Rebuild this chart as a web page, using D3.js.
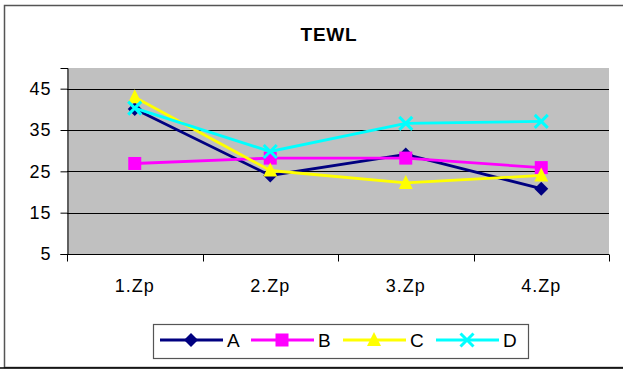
<!DOCTYPE html>
<html>
<head>
<meta charset="utf-8">
<script src="https://cdn.jsdelivr.net/npm/d3@7"></script>
<style>
  html, body { margin: 0; padding: 0; background: #fff; }
  svg { display: block; font-family: Arial, "Liberation Sans", sans-serif; }
</style>
</head>
<body>
<svg id="chart" width="623" height="369"></svg>
<script>
// TEWL measurements per visit (1.Zp .. 4.Zp) for four groups
const categories = ["1.Zp", "2.Zp", "3.Zp", "4.Zp"];
const seriesNames = ["A", "B", "C", "D"];
const valuesA = [40.1, 24.0, 29.1, 20.8];
const valuesB = [26.9, 28.2, 28.2, 25.9];
const valuesC = [42.9, 25.2, 22.2, 24.0];
const valuesD = [40.3, 29.8, 36.6, 37.1];
const yTicks = [5, 15, 25, 35, 45];
const yDomain = [5, 50];
const chartTitle = "TEWL";

const series = [
  { name: seriesNames[0], values: valuesA, color: "#000080", marker: "diamond" },
  { name: seriesNames[1], values: valuesB, color: "#FF00FF", marker: "square" },
  { name: seriesNames[2], values: valuesC, color: "#FFFF00", marker: "triangle" },
  { name: seriesNames[3], values: valuesD, color: "#00FFFF", marker: "x" }
];

const FONT = "Arial, 'Liberation Sans', sans-serif";
const svg = d3.select("#chart");
const plot = { left: 67, right: 609, top: 68, bottom: 254 };

// outer chart frame
svg.append("rect")
  .attr("x", 4.5).attr("y", 5.5)
  .attr("width", 640).attr("height", 362)
  .attr("fill", "#fff").attr("stroke", "#555").attr("stroke-width", 1.5);
svg.append("line")
  .attr("x1", 0).attr("x2", 623).attr("y1", 368).attr("y2", 368)
  .attr("stroke", "#000").attr("stroke-width", 1.5);

// title
svg.append("text")
  .attr("x", 329).attr("y", 41)
  .attr("text-anchor", "middle")
  .attr("font-weight", "bold").attr("font-size", 19).attr("letter-spacing", 0.8)
  .text(chartTitle);

const x = d3.scaleBand().domain(categories).range([plot.left, plot.right]).padding(0);
const y = d3.scaleLinear().domain(yDomain).range([plot.bottom, plot.top]);

// plot background
svg.append("rect")
  .attr("x", plot.left).attr("y", plot.top)
  .attr("width", plot.right - plot.left).attr("height", plot.bottom - plot.top)
  .attr("fill", "#C0C0C0");

// horizontal gridlines
svg.append("g").selectAll("line")
  .data(yTicks.filter(t => t !== yDomain[0]))
  .join("line")
  .attr("x1", plot.left).attr("x2", plot.right)
  .attr("y1", d => Math.round(y(d)) + 0.5).attr("y2", d => Math.round(y(d)) + 0.5)
  .attr("stroke", "#000").attr("stroke-width", 1);

// y axis
const yAxis = d3.axisLeft(y).tickValues(yTicks).tickSize(7).tickPadding(9);
const gy = svg.append("g").attr("transform", `translate(${plot.left + 0.5},0)`).call(yAxis);
gy.attr("font-size", null).attr("font-family", null);
gy.select(".domain").attr("stroke", "#000");
gy.selectAll(".tick line").attr("stroke", "#000");
gy.selectAll(".tick text").attr("font-size", 18).attr("fill", "#000").attr("font-family", FONT)
  .attr("letter-spacing", 1);

// x axis: ticks on category boundaries, labels centred
const gx = svg.append("g").attr("transform", `translate(0,${plot.bottom + 0.5})`);
gx.append("line").attr("x1", plot.left).attr("x2", plot.right).attr("stroke", "#000");
const bounds = categories.map(c => x(c)).concat([x(categories[categories.length - 1]) + x.bandwidth()]);
gx.selectAll("line.tk").data(bounds).join("line").attr("class", "tk")
  .attr("x1", d => Math.round(d) + 0.5).attr("x2", d => Math.round(d) + 0.5)
  .attr("y1", 0).attr("y2", 7).attr("stroke", "#000");
gx.selectAll("text").data(categories).join("text")
  .attr("x", d => x(d) + x.bandwidth() / 2).attr("y", 37)
  .attr("text-anchor", "middle").attr("font-size", 18).attr("letter-spacing", 1).text(d => d);

// marker shapes
function drawMarker(g, type, color, cx, cy) {
  if (type === "diamond") {
    g.append("path").attr("d", `M${cx},${cy - 7}L${cx + 7},${cy}L${cx},${cy + 7}L${cx - 7},${cy}Z`).attr("fill", color);
  } else if (type === "square") {
    g.append("rect").attr("x", cx - 6.5).attr("y", cy - 6.5).attr("width", 13).attr("height", 13).attr("fill", color);
  } else if (type === "triangle") {
    g.append("path").attr("d", `M${cx},${cy - 8}L${cx + 7},${cy + 6}L${cx - 7},${cy + 6}Z`).attr("fill", color);
  } else if (type === "x") {
    g.append("path").attr("d", `M${cx - 6.5},${cy - 6.5}L${cx + 6.5},${cy + 6.5}M${cx + 6.5},${cy - 6.5}L${cx - 6.5},${cy + 6.5}`)
      .attr("stroke", color).attr("stroke-width", 3).attr("fill", "none");
  }
}

const line = d3.line().x((d, i) => x(categories[i]) + x.bandwidth() / 2).y(d => y(d));
series.forEach(s => {
  const g = svg.append("g");
  g.append("path").attr("d", line(s.values)).attr("fill", "none")
    .attr("stroke", s.color).attr("stroke-width", 2.8);
  s.values.forEach((v, i) => drawMarker(g, s.marker, s.color, x(categories[i]) + x.bandwidth() / 2, y(v)));
});

// legend
const legend = svg.append("g");
legend.append("rect").attr("x", 153.5).attr("y", 324.5).attr("width", 375).attr("height", 34)
  .attr("fill", "#fff").attr("stroke", "#555").attr("stroke-width", 1.2);
const legendX = [160, 251, 343, 436];
series.forEach((s, i) => {
  const lx = legendX[i];
  legend.append("line").attr("x1", lx).attr("x2", lx + 63).attr("y1", 340).attr("y2", 340)
    .attr("stroke", s.color).attr("stroke-width", 2.8);
  drawMarker(legend, s.marker, s.color, lx + 31, 340);
  legend.append("text").attr("x", lx + 67).attr("y", 347).attr("font-size", 19).text(s.name);
});
</script>
</body>
</html>
